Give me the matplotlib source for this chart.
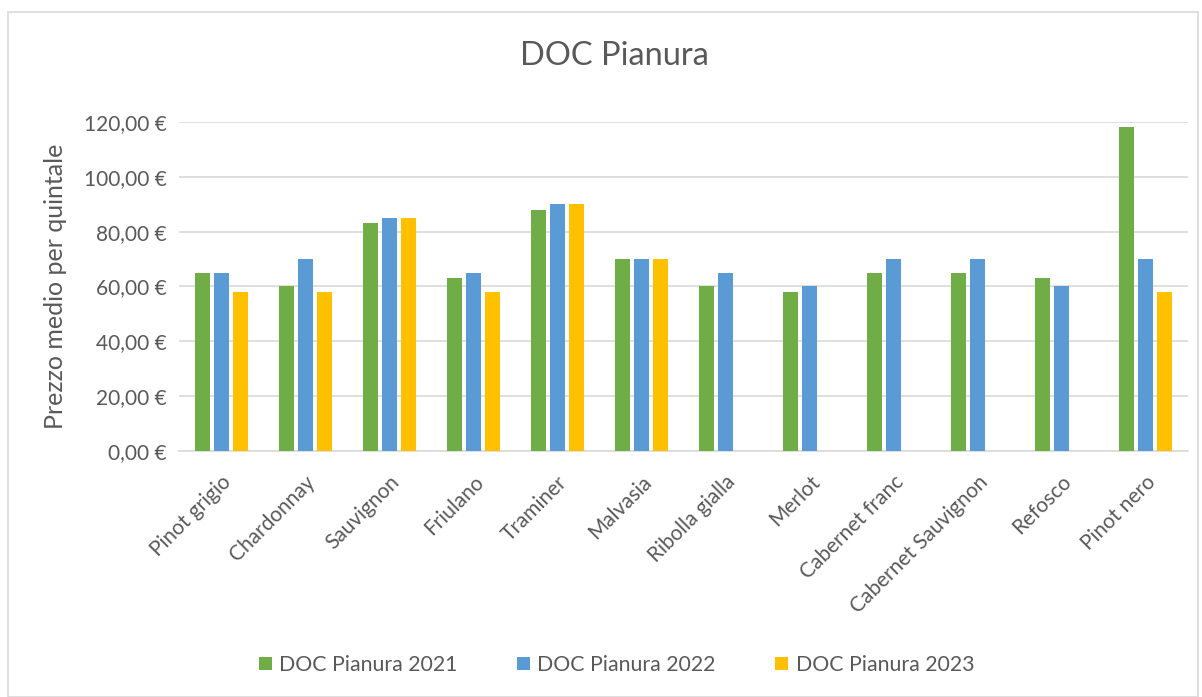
import numpy as np
import matplotlib
matplotlib.use("Agg")
import matplotlib.pyplot as plt
from matplotlib.ticker import FuncFormatter

plt.rcParams['font.family'] = ['Lato', 'DejaVu Sans']

categories = ['Pinot grigio', 'Chardonnay', 'Sauvignon', 'Friulano', 'Traminer',
              'Malvasia', 'Ribolla gialla', 'Merlot', 'Cabernet franc',
              'Cabernet Sauvignon', 'Refosco', 'Pinot nero']
prezzi_2021 = [65, 60, 83, 63, 88, 70, 60, 58, 65, 65, 63, 118]
prezzi_2022 = [65, 70, 85, 65, 90, 70, 65, 60, 70, 70, 60, 70]
prezzi_2023 = [58, 58, 85, 58, 90, 70, np.nan, np.nan, np.nan, np.nan, np.nan, 58]
series_names = ['DOC Pianura 2021', 'DOC Pianura 2022', 'DOC Pianura 2023']

colors = ['#70AD47', '#5B9BD5', '#FFC000']
text_col = '#595959'

fig = plt.figure(figsize=(12.02, 6.97), dpi=100)
ax = fig.add_axes([0.149, 0.353, 0.839, 0.472])

x = np.arange(len(categories))
w = 0.178
off = 0.225
for i, vals in enumerate([prezzi_2021, prezzi_2022, prezzi_2023]):
    ax.bar(x + (i - 1) * off, vals, w, color=colors[i], label=series_names[i], zorder=3)

ax.set_xlim(-0.5, len(categories) - 0.5)
ax.set_ylim(0, 120)
ax.set_yticks(np.arange(0, 121, 20))
ax.yaxis.set_major_formatter(FuncFormatter(lambda v, p: f"{v:.2f}".replace('.', ',') + " €"))
ax.grid(axis='y', color='#D9D9D9', linewidth=1.2, zorder=0)
for s in ['top', 'right', 'left']:
    ax.spines[s].set_visible(False)
ax.spines['bottom'].set_color('#D9D9D9')
ax.spines['bottom'].set_linewidth(1.2)
ax.tick_params(axis='y', length=0, colors=text_col, labelsize=15, pad=9)
ax.tick_params(axis='x', length=0, colors=text_col, labelsize=15, pad=15)
ax.set_xticks(x)
ax.set_xticklabels(categories, rotation=45, ha='right', rotation_mode='anchor')
ax.set_ylabel('Prezzo medio per quintale', color=text_col, fontsize=18, labelpad=12)

fig.suptitle('DOC Pianura', x=0.511, y=0.92, va='center', fontsize=23.5, color=text_col)

leg = fig.legend(loc='center', bbox_to_anchor=(0.513, 0.046), ncol=3, frameon=False,
                 fontsize=15.3, handlelength=0.6, handleheight=0.6, columnspacing=2.8,
                 handletextpad=0.35)
for t in leg.get_texts():
    t.set_color(text_col)

fig.patches.append(plt.Rectangle((0.007, 0.0), 0.99, 0.983, transform=fig.transFigure,
                                 fill=False, edgecolor='#D9D9D9', linewidth=1.2))

fig.savefig('out.png', dpi=100)
